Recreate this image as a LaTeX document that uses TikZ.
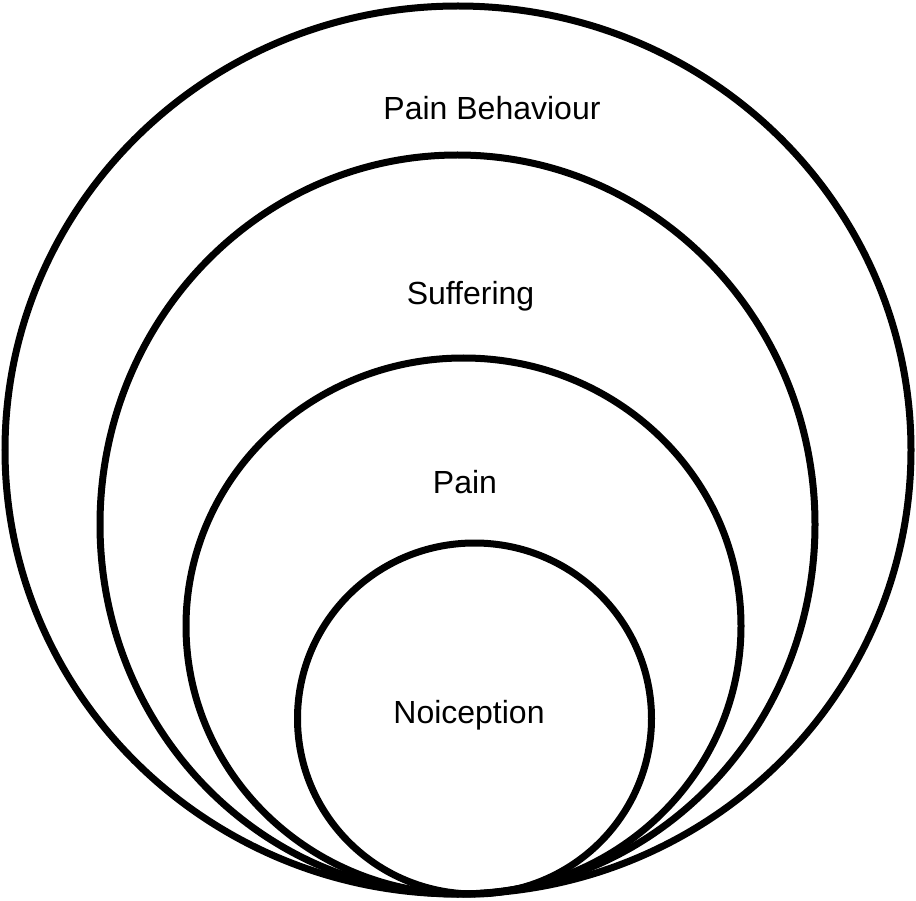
\documentclass[tikz,border=0pt]{standalone}
\usepackage{fontspec}
\setmainfont{Liberation Sans}
\begin{document}
\begin{tikzpicture}[x=1pt,y=-1pt,
  ring/.style={draw=black,line width=7pt},
  lbl/.style={anchor=base,inner sep=0pt,font=\fontsize{32}{38}\selectfont}]
\useasboundingbox[fill=white] (0,0) rectangle (916,901);
\draw[ring] (458,450) ellipse [x radius=453, y radius=444];
\draw[ring] (457.5,524.5) ellipse [x radius=357.5, y radius=369.5];
\draw[ring] (463.5,626) ellipse [x radius=277.5, y radius=268];
\draw[ring] (474.5,718.5) ellipse [x radius=177, y radius=175.5];
\node[lbl] (behaviour) at (492,120) {Pain Behaviour};
\node[lbl] (suffering) at (470.5,305) {Suffering};
\node[lbl] (pain) at (465,493) {Pain};
\node[lbl] (noiception) at (469,723) {Noiception};
\end{tikzpicture}
\end{document}
